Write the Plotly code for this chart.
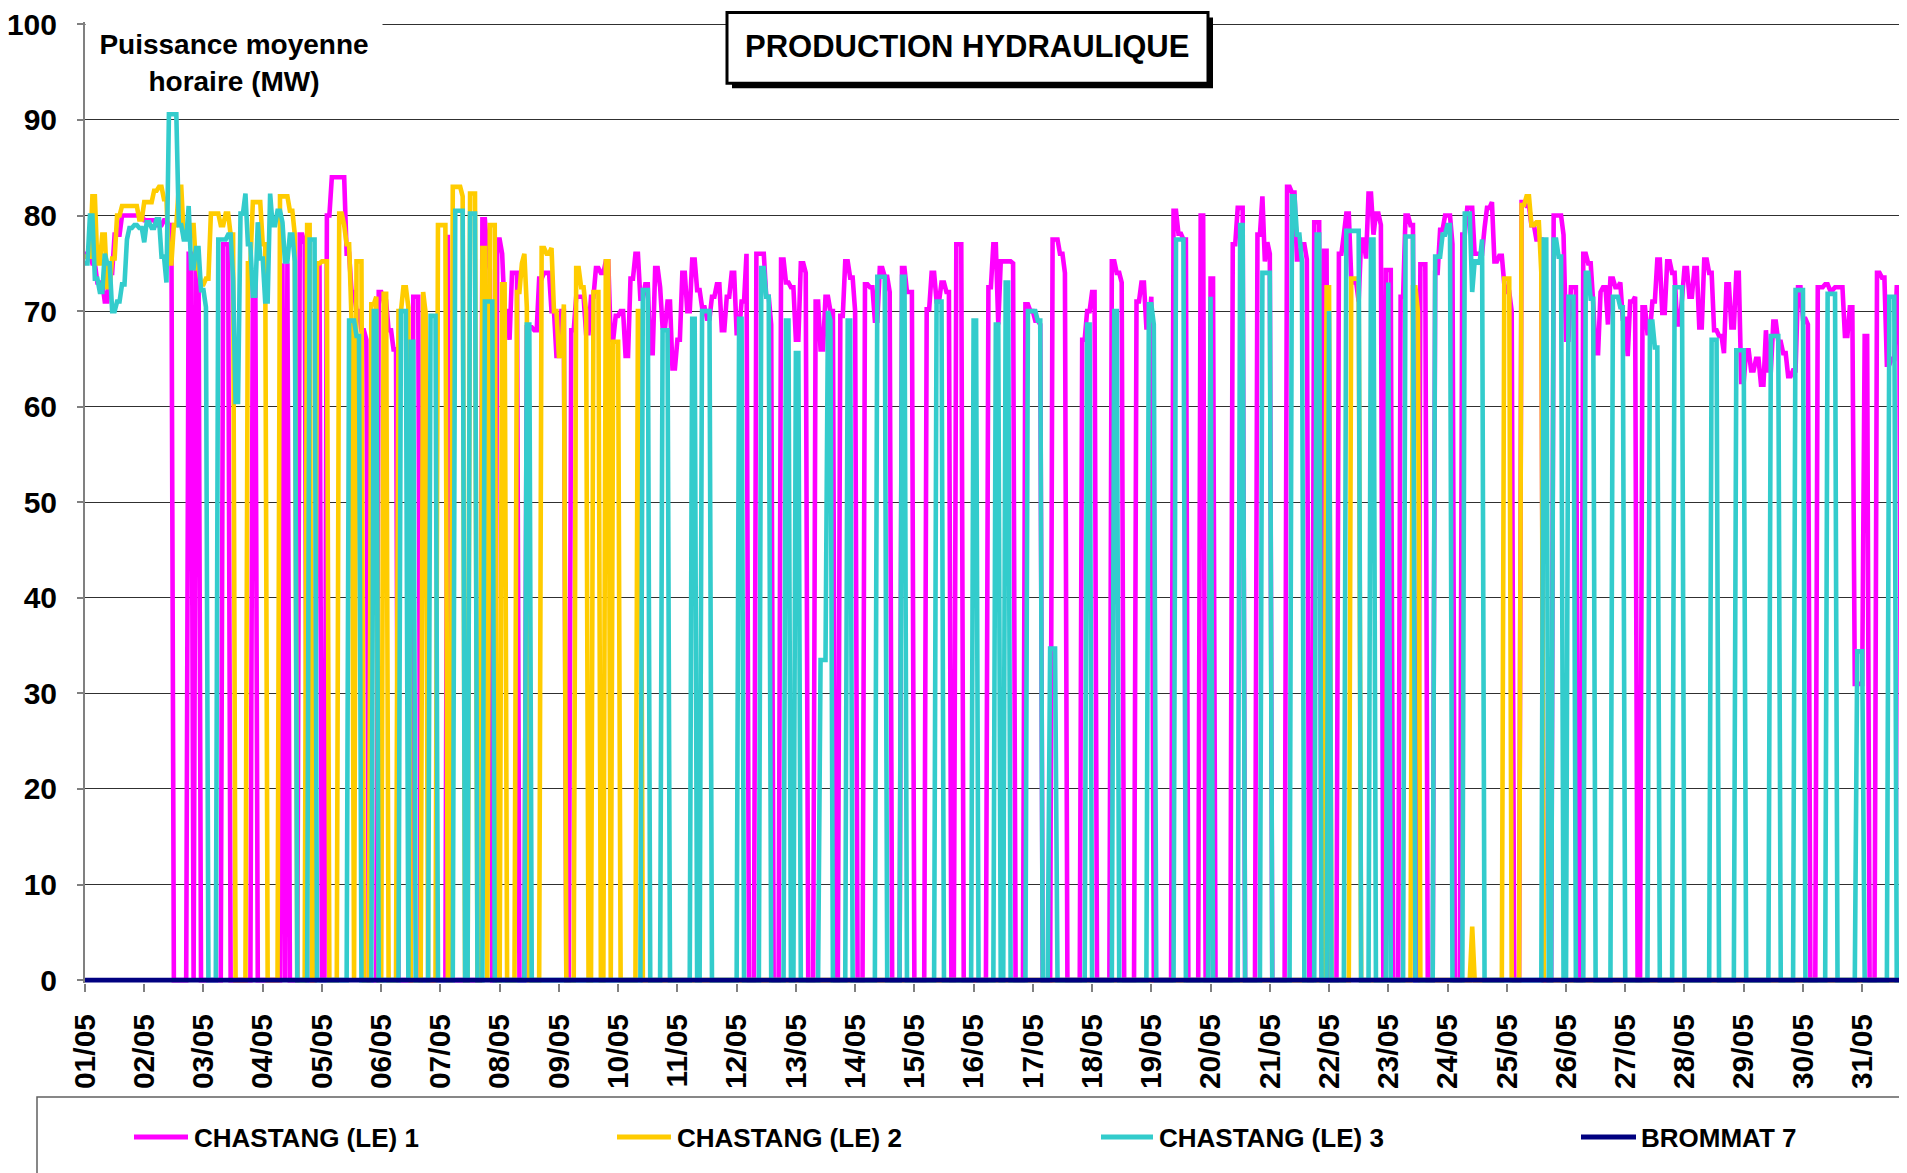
import numpy as np
import plotly.graph_objects as go

W, H = 1907, 1173
N_HOURS = 744  # May, hourly

# day labels on the x axis
DAY_LABELS = ["%02d/05" % d for d in range(1, 32)]
Y_TICKS = [0, 10, 20, 30, 40, 50, 60, 70, 80, 90, 100]

SERIES_NAMES = ["CHASTANG (LE) 1", "CHASTANG (LE) 2", "CHASTANG (LE) 3", "BROMMAT 7"]
SERIES_COLORS = ["#FF00FF", "#FFCC00", "#33CCCC", "#000080"]

# running periods: (start hour, end hour, MW levels along the run)
CH1_RUNS = [
    (0, 35.6, [76, 75, 73, 71, 74, 78, 80, 80, 80, 80, 79.5, 79.5, 79, 79.5, 79]),
    (41.2, 43, [76]),
    (44.6, 46.8, [75]),
    (55.4, 58.2, [77]),
    (67.6, 69.8, [74]),
    (79.5, 80.7, [75]),
    (81.2, 82.8, [75]),
    (86.5, 89, [78, 77]),
    (93.6, 95.2, [75]),
    (97.3, 114.2, [80, 84, 84, 84, 76, 72, 70, 68, 67]),
    (118.9, 126.6, [72, 71, 68, 66]),
    (132.4, 135.8, [71.5]),
    (146.5, 147.9, [78]),
    (160.3, 164, [79.6, 76, 74.3]),
    (166.1, 175.6, [77.5, 76, 70, 67, 74, 74]),
    (179, 194, [68.3, 68, 73.4, 74, 70, 65.3, 70]),
    (197, 268, [68, 71.5, 71.5, 67.7, 71.5, 74.5, 74, 75.2, 67, 69.5, 70, 65.3, 73.4,
                76, 71.3, 72.8, 65.6, 74.5, 72.5, 68.3, 71, 64, 67, 74, 70, 75.4, 72.2,
                70.4, 69.2, 71.5, 72.8, 68, 71.5, 74, 67.7, 71, 76]),
    (271.5, 278.5, [76, 76, 71.5, 68.6]),
    (281.6, 292.5, [75.4, 73, 72.5, 67, 75, 74]),
    (295.8, 303.5, [71, 66, 71.5, 70]),
    (305.3, 312.7, [69.5, 75.2, 73.5, 70]),
    (316, 326.5, [72.8, 72.5, 69, 74.5, 73.6, 72]),
    (330.9, 335.6, [74.5, 72, 72]),
    (340.4, 350.5, [70.2, 74, 71, 73, 72]),
    (352.5, 355.2, [77]),
    (365.4, 376.2, [72.5, 77, 68.6, 75.2, 75.2, 75.2, 75]),
    (381, 387.7, [70.7, 70, 69, 68.6]),
    (391.7, 397.8, [77.5, 77.5, 76, 74]),
    (403.9, 409.3, [67, 70, 72]),
    (416, 420.5, [75.2, 74, 73]),
    (425.5, 432.9, [71, 73, 68.3, 71.5]),
    (440.3, 446, [80.5, 78.1, 77.5]),
    (451.1, 453.4, [80]),
    (455.2, 457.2, [73.4]),
    (464.6, 469.4, [77, 80.8, 80.8, 80.8]),
    (474.8, 480.2, [78, 82, 75.2, 77.2, 76]),
    (487, 495.7, [83, 82.4, 75.4, 77, 75.4]),
    (497.8, 500.5, [79.3]),
    (501.8, 503.8, [76.3]),
    (507.2, 525.4, [76, 78, 80.2, 73.4, 73, 71, 77.5, 75.5, 82.3, 78, 80.2, 79]),
    (526.8, 529.5, [74.3]),
    (532.2, 538, [71.5, 80, 79]),
    (540.5, 543, [74.9]),
    (546.4, 554.7, [74, 78.5, 80, 80, 77]),
    (557.2, 578.8, [78, 80.8, 80.8, 76, 76, 78.7, 80.8, 81.4, 75.2, 75.8, 72.8, 72, 70]),
    (581.5, 590.3, [81.4, 81, 79, 77.5, 77.5]),
    (594.3, 604.5, [80, 80, 78, 67, 72.5, 72.5]),
    (606.5, 628.8, [76, 75, 71, 65.6, 72, 72.5, 68.6, 73.4, 72.5, 73, 69.2, 65.3, 71, 71.5]),
    (630.8, 698.3, [70.4, 67.7, 71, 75.4, 69.8, 75.2, 74, 68.6, 71.3, 74.5, 71.5, 74.5,
                    68.3, 75.4, 74, 68, 67.4, 65.6, 72.8, 68.3, 74, 62.6, 65.9, 63.8, 65,
                    62.3, 68, 63.8, 68.9, 66.8, 65.6, 63.2, 63.8, 72.5, 69.2, 68.6]),
    (701.7, 722.6, [72.5, 72.8, 72.2, 72.5, 72.5, 67.4, 70.4, 31, 31, 67.4]),
    (726, 735.5, [74, 73.5, 64.4, 65, 72.5]),
    (737.5, 744, [69]),
]

CH2_RUNS = [
    (0, 60.8, [75.7, 82, 75, 78, 72.5, 75.5, 80, 81, 81, 81, 79.6, 81.4, 81.4, 82.6, 83,
               81.7, 75, 79, 83, 77.8, 79, 74.5, 72.8, 73.4, 80.2, 80.2, 79, 80.2, 78]),
    (65.3, 73.7, [75, 81.4, 81.4, 77]),
    (78.4, 85, [82, 82, 80.5, 78]),
    (89.2, 91.9, [79]),
    (93.6, 95.2, [75]),
    (95.9, 98.6, [75.2]),
    (102.7, 108, [80.2, 79, 77, 69]),
    (110, 112.1, [75.2]),
    (115.5, 118.2, [70.7, 71.5]),
    (120.2, 122.9, [71.8]),
    (127, 131.7, [70, 72.5, 72.5, 70.4]),
    (136.4, 138.7, [72, 69.8]),
    (142.8, 146.6, [79]),
    (149, 153.3, [83, 83, 82]),
    (155.7, 158.3, [82.3]),
    (160.3, 162.1, [76.6]),
    (164, 166, [79]),
    (168.4, 170.9, [72.8]),
    (174.2, 179.6, [72, 75, 76, 70.4]),
    (184.3, 194, [76.6, 76, 76.6, 70, 65.3, 70.7]),
    (198.6, 203.3, [74.5, 72.5, 70]),
    (205.9, 208.4, [72]),
    (210.7, 212.7, [75.2]),
    (213.4, 216.1, [66.8]),
    (223.5, 225, [70]),
    (502.5, 504.5, [72.5]),
    (512.6, 516, [73.4]),
    (537.5, 540, [72.5, 70]),
    (562, 562, [5.6]),
    (574.1, 577.5, [73.4]),
    (581.5, 590.3, [81.1, 82, 79, 79.3, 74]),
]

CH3_RUNS = [
    (0, 49.4, [75, 80, 73.4, 72, 76, 75, 70, 71, 72.8, 77.5, 78.7, 79, 78.7, 77.2, 79.3,
               78.7, 79.6, 75.7, 73, 90.6, 90.6, 79, 77.5, 81, 74.5, 76.6, 72.2, 70.4]),
    (54, 85.8, [77.5, 77.5, 78, 73.4, 60.5, 80.2, 82.3, 77, 71.6, 79.3, 75.5, 71, 82.3,
                79, 80.5, 79.3, 75.2, 78, 75.2]),
    (90.5, 93.9, [77.5]),
    (106.7, 111.4, [69, 67.4]),
    (116.2, 118.9, [70]),
    (127.9, 130.6, [70]),
    (131.4, 133.7, [66.8]),
    (139.5, 142.5, [69.5]),
    (149.5, 153.3, [80.5]),
    (156, 158.7, [80.2]),
    (161.4, 165.2, [71]),
    (178.3, 180.6, [68.6]),
    (225.6, 228.3, [72.2]),
    (234, 236.4, [68]),
    (245.8, 247.2, [69.2]),
    (249.9, 253.3, [70]),
    (264.1, 266.1, [69.2]),
    (273.5, 277.5, [74.5, 71.5]),
    (283.7, 285, [69]),
    (287.7, 289, [65.6]),
    (297.2, 302, [33.5, 33.5, 70, 69]),
    (308.6, 310.7, [69]),
    (320.8, 324.2, [73.6]),
    (330.9, 332.3, [73.6]),
    (344.7, 347.1, [71]),
    (359.3, 361, [69]),
    (368.7, 370.7, [68.6]),
    (372.5, 374, [73]),
    (381.3, 387.7, [70, 70, 69]),
    (391, 393, [34.7]),
    (405.2, 407.2, [68.6]),
    (416.7, 418.7, [70]),
    (430.2, 433.5, [70.7, 68.6]),
    (441.7, 445, [77.5]),
    (455.2, 456.5, [71.5]),
    (467.5, 469.4, [79]),
    (476.8, 480.2, [74]),
    (489, 493.7, [82, 78, 75.2]),
    (498.4, 500.5, [78]),
    (503.2, 504.5, [70]),
    (510.6, 516.6, [78.4, 78.4]),
    (520.7, 522.7, [77.5]),
    (527.4, 528.8, [73]),
    (534.9, 538.2, [77.8]),
    (547, 553, [75.7, 78, 79]),
    (558.5, 566.7, [80.2, 80.2, 72, 75.2, 75, 77.5]),
    (590.3, 592.3, [77.5]),
    (594.3, 598.4, [77.5, 75.7]),
    (601, 603.3, [71.5]),
    (607.8, 611.9, [74, 71.3]),
    (618.6, 623.4, [71.5, 70.4]),
    (633.5, 637.5, [68.9, 66.2]),
    (643.6, 647, [72.5]),
    (658.5, 661.9, [67]),
    (668.6, 672, [65.9]),
    (682.8, 686.2, [67.4]),
    (693, 696.3, [72.2]),
    (705.7, 709.8, [71.8]),
    (717.9, 720.6, [34.4]),
    (730.7, 733.4, [71.5]),
]

BROMMAT_RUNS = []  # stays at 0 the whole month


def hourly(runs):
    y = np.zeros(N_HOURS)
    for start, end, vals in runs:
        i0 = int(np.ceil(start))
        i1 = min(N_HOURS - 1, max(i0, int(np.floor(end))))
        n = i1 - i0 + 1
        for k in range(n):
            y[i0 + k] = vals[min(len(vals) - 1, k * len(vals) // n)]
    return y


hours = np.arange(N_HOURS)
series = [hourly(r) for r in (CH1_RUNS, CH2_RUNS, CH3_RUNS, BROMMAT_RUNS)]

# page offset of the figure div (default body margin)
OFF = 8
# where 0 and 100 sit on screen
Y0_PX, Y100_PX = 980, 24
Y_MIN, Y_MAX = -0.3, 100.25  # a little headroom so the 100 gridline is kept
SCALE = (Y0_PX - Y100_PX) / 100.0
L = 85
T = Y100_PX - (Y_MAX - 100) * SCALE
PLOT_H = (Y_MAX - Y_MIN) * SCALE
PLOT_W = W - (L - OFF)
B = H - (T - OFF) - PLOT_H
X_MAX = PLOT_W / 59.24 * 24


def px(x):
    return (x - L) / PLOT_W


def py(y):
    return (T + PLOT_H - y) / PLOT_H


FONT = "Liberation Sans, Arial, sans-serif"

fig = go.Figure()
for name, color, ys in zip(SERIES_NAMES, SERIES_COLORS, series):
    fig.add_trace(go.Scatter(
        x=hours, y=ys, mode="lines", name=name,
        line=dict(color=color, width=4.6),
        showlegend=False, hoverinfo="skip",
    ))

shapes = []
# title box with drop shadow
shapes.append(dict(type="rect", xref="paper", yref="paper",
                   x0=px(732), x1=px(1213), y0=py(88), y1=py(17),
                   fillcolor="black", line=dict(width=0), layer="above"))
shapes.append(dict(type="rect", xref="paper", yref="paper",
                   x0=px(727), x1=px(1208), y0=py(83), y1=py(12),
                   fillcolor="white", line=dict(color="black", width=3), layer="above"))
# legend frame
shapes.append(dict(type="rect", xref="paper", yref="paper",
                   x0=px(37), x1=px(1940), y0=py(1220), y1=py(1097),
                   fillcolor="white", line=dict(color="#606060", width=1.5), layer="above"))

annotations = [
    dict(text="<b>PRODUCTION HYDRAULIQUE</b>", xref="paper", yref="paper",
         x=px(967), y=py(46), xanchor="center", yanchor="middle", showarrow=False,
         font=dict(family=FONT, size=31, color="black")),
    dict(text="<b>Puissance moyenne<br>horaire (MW)</b>", xref="paper", yref="paper",
         x=px(234), y=py(63), xanchor="center", yanchor="middle", showarrow=False,
         bgcolor="white", width=292, height=82, borderpad=2,
         font=dict(family=FONT, size=28, color="black")),
]

legend_x = [(134, 188, 192), (617, 671, 675), (1101, 1153, 1157), (1581, 1636, 1639)]
for (a, b, t), name, color in zip(legend_x, SERIES_NAMES, SERIES_COLORS):
    shapes.append(dict(type="line", xref="paper", yref="paper",
                       x0=px(a), x1=px(b), y0=py(1137), y1=py(1137),
                       line=dict(color=color, width=5), layer="above"))
    annotations.append(dict(text="<b>%s</b>" % name, xref="paper", yref="paper",
                            x=px(t), y=py(1138), xanchor="left", yanchor="middle",
                            showarrow=False,
                            font=dict(family=FONT, size=26, color="black")))

fig.update_layout(
    width=W, height=H,
    margin=dict(l=L - OFF, r=0, t=T - OFF, b=B, pad=0),
    paper_bgcolor="white", plot_bgcolor="white",
    font=dict(family=FONT, color="black"),
    xaxis=dict(
        range=[0, X_MAX], tickvals=[24 * i for i in range(31)], ticktext=DAY_LABELS,
        tickangle=-90, ticks="outside", ticklen=8, tickcolor="#808080", tickwidth=1.5,
        tickfont=dict(family=FONT, size=30, color="black", weight="bold"),
        showgrid=False, showline=False, zeroline=False, ticklabelstandoff=10,
        ticklabeloverflow="allow",
    ),
    yaxis=dict(
        range=[Y_MIN, Y_MAX], tickvals=Y_TICKS, ticks="outside", ticklen=6,
        tickcolor="#808080", tickwidth=1.5,
        tickfont=dict(family=FONT, size=30, color="black", weight="bold"),
        showgrid=True, gridcolor="#303030", gridwidth=1,
        showline=True, linecolor="#808080", linewidth=2, zeroline=False,
        ticklabelstandoff=14, ticklabeloverflow="allow",
    ),
    shapes=shapes,
    annotations=annotations,
    showlegend=False,
)

fig.write_html("out.html")
